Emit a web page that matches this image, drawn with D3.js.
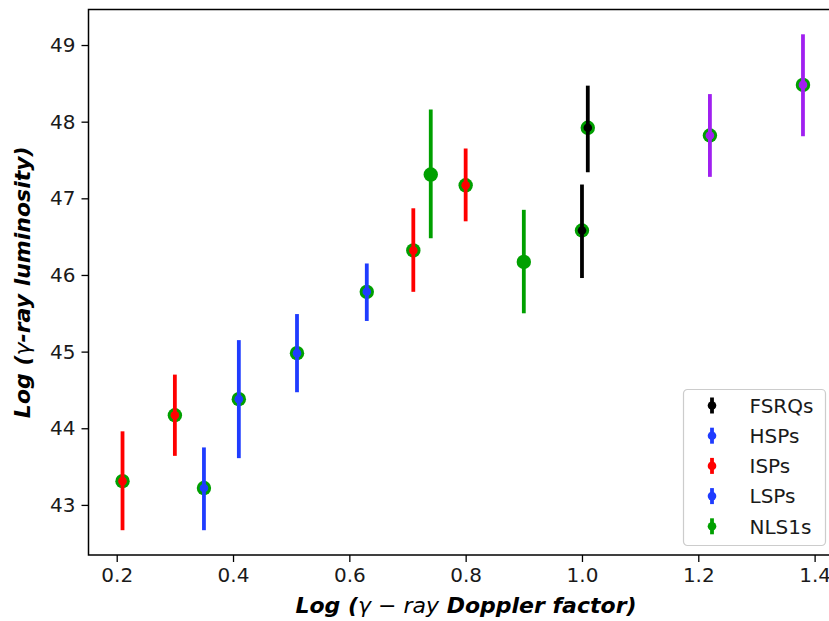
<!DOCTYPE html>
<html>
<head>
<meta charset="utf-8">
<script src="https://cdn.jsdelivr.net/npm/d3@7"></script>
<style>
  body { margin: 0; background: #fff; }
  text { font-family: "DejaVu Sans", sans-serif; }
</style>
</head>
<body>
<div id="chart"></div>
<script>
// values
const doppler = [0.21, 0.30, 0.35, 0.41, 0.51, 0.63, 0.71, 0.74, 0.80, 0.90, 1.00, 1.01, 1.22, 1.38];
const luminosity = [43.31, 44.17, 43.22, 44.38, 44.98, 45.78, 46.32, 47.31, 47.17, 46.17, 46.58, 47.92, 47.82, 48.48];
const lumLow = [42.67, 43.64, 42.67, 43.61, 44.47, 45.40, 45.78, 46.48, 46.70, 45.50, 45.96, 47.34, 47.28, 47.81];
const lumHigh = [43.96, 44.70, 43.75, 45.15, 45.49, 46.15, 46.87, 48.16, 47.65, 46.85, 47.18, 48.47, 48.36, 49.14];
const pointClass = ["ISPs", "ISPs", "HSPs", "HSPs", "LSPs", "LSPs", "ISPs", "NLS1s", "ISPs", "NLS1s", "FSRQs", "FSRQs", "other", "other"];

const categories = ["FSRQs", "HSPs", "ISPs", "LSPs", "NLS1s"];
const classColors = { FSRQs: "#000000", HSPs: "#1f3cff", ISPs: "#ff0000", LSPs: "#1f3cff", NLS1s: "#00a000", other: "#a020f0" };
const xTicks = [0.2, 0.4, 0.6, 0.8, 1.0, 1.2, 1.4];
const yTicks = [43, 44, 45, 46, 47, 48, 49];

const width = 829, height = 621;
const margin = { top: 9.5, left: 88.5, bottom: 66 };
const plotRight = 837; // right spine falls just outside the picture

const data = doppler.map((d, i) => ({
  x: d, y: luminosity[i], lo: lumLow[i], hi: lumHigh[i], cls: pointClass[i]
}));

// matplotlib style 5% margins
function padded(lo, hi) {
  const m = (hi - lo) * 0.05;
  return [lo - m, hi + m];
}

const x = d3.scaleLinear()
  .domain(padded(d3.min(doppler), d3.max(doppler)))
  .range([margin.left, plotRight]);
const y = d3.scaleLinear()
  .domain(padded(d3.min(lumLow), d3.max(lumHigh)))
  .range([height - margin.bottom, margin.top]);

const svg = d3.select("#chart").append("svg")
  .attr("width", width)
  .attr("height", height);

// axes
const xAxis = svg.append("g")
  .attr("transform", "translate(0," + (height - margin.bottom) + ")")
  .call(d3.axisBottom(x).tickValues(xTicks).tickFormat(d3.format(".1f")).tickSizeInner(7).tickSizeOuter(0).tickPadding(6));
const yAxis = svg.append("g")
  .attr("transform", "translate(" + margin.left + ",0)")
  .call(d3.axisLeft(y).tickValues(yTicks).tickFormat(d3.format("d")).tickSizeInner(7).tickSizeOuter(0).tickPadding(6));

[xAxis, yAxis].forEach(function (g) {
  g.select(".domain").remove();
  g.selectAll(".tick line").attr("stroke", "#000").attr("stroke-width", 1.3);
  g.selectAll(".tick text")
    .attr("fill", "#1a1a1a")
    .style("font-size", "20px");
});

// frame
svg.append("rect")
  .attr("x", margin.left)
  .attr("y", margin.top)
  .attr("width", plotRight - margin.left)
  .attr("height", height - margin.bottom - margin.top)
  .attr("fill", "none")
  .attr("stroke", "#000")
  .attr("stroke-width", 1.5);

// green markers go underneath
svg.append("g").selectAll("circle")
  .data(data)
  .enter()
  .append("circle")
  .attr("cx", d => x(d.x))
  .attr("cy", d => y(d.y))
  .attr("r", 7.2)
  .attr("fill", classColors.NLS1s);

// error bars
svg.append("g").selectAll("line")
  .data(data)
  .enter()
  .append("line")
  .attr("x1", d => x(d.x))
  .attr("x2", d => x(d.x))
  .attr("y1", d => y(d.lo))
  .attr("y2", d => y(d.hi))
  .attr("stroke", d => classColors[d.cls])
  .attr("stroke-width", 3.8);

svg.append("g").selectAll("circle")
  .data(data)
  .enter()
  .append("circle")
  .attr("cx", d => x(d.x))
  .attr("cy", d => y(d.y))
  .attr("r", 4.3)
  .attr("fill", d => classColors[d.cls]);

// axis labels
const xLabel = svg.append("text")
  .attr("x", 466)
  .attr("y", 613)
  .attr("text-anchor", "middle")
  .style("font-size", "22px");
xLabel.append("tspan").attr("font-weight", "bold").attr("font-style", "italic").text("Log (");
xLabel.append("tspan").attr("font-style", "italic").text("\u03b3 \u2212 ray");
xLabel.append("tspan").attr("font-weight", "bold").attr("font-style", "italic").text(" Doppler factor)");

const yLabel = svg.append("text")
  .attr("transform", "translate(30," + ((margin.top + height - margin.bottom) / 2) + ") rotate(-90)")
  .attr("text-anchor", "middle")
  .style("font-size", "22px");
yLabel.append("tspan").attr("font-weight", "bold").attr("font-style", "italic").text("Log (");
yLabel.append("tspan").attr("font-style", "italic").text("\u03b3");
yLabel.append("tspan").attr("font-weight", "bold").attr("font-style", "italic").text("-ray luminosity)");

// legend
const legend = svg.append("g").attr("transform", "translate(683.5,389.5)");
legend.append("rect")
  .attr("width", 142)
  .attr("height", 156)
  .attr("rx", 4)
  .attr("fill", "#fff")
  .attr("fill-opacity", 0.8)
  .attr("stroke", "#cccccc")
  .attr("stroke-width", 1.2);

const rows = legend.selectAll("g.row")
  .data(categories)
  .enter()
  .append("g")
  .attr("class", "row")
  .attr("transform", (d, i) => "translate(0," + (16 + i * 30.2) + ")");
rows.append("line")
  .attr("x1", 28.5).attr("x2", 28.5)
  .attr("y1", -8).attr("y2", 8)
  .attr("stroke", d => classColors[d])
  .attr("stroke-width", 3.8);
rows.append("circle")
  .attr("cx", 28.5)
  .attr("r", 4.3)
  .attr("fill", d => classColors[d]);
rows.append("text")
  .attr("x", 66)
  .attr("dy", "0.36em")
  .style("font-size", "20px")
  .attr("fill", "#1a1a1a")
  .text(d => d);
</script>
</body>
</html>
